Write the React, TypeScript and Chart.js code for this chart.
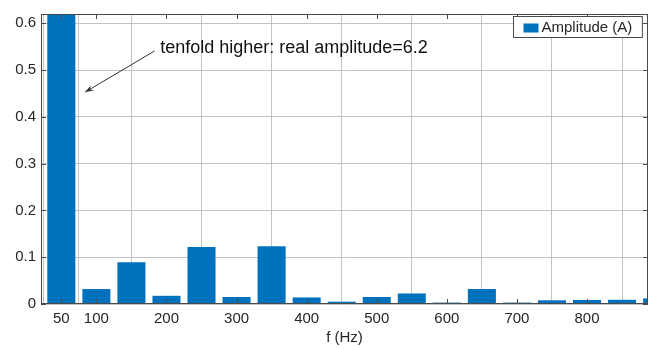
import React, { useEffect, useRef } from "react";
import { Chart, registerables } from "chart.js";

Chart.register(...registerables);

const freqs = [50, 100, 150, 200, 250, 300, 350, 400, 450, 500, 550, 600, 650, 700, 750, 800, 850, 900];
const amps = [6.2, 0.032, 0.089, 0.0175, 0.122, 0.015, 0.1235, 0.014, 0.005, 0.015, 0.0225, 0.003, 0.032, 0.003, 0.008, 0.0085, 0.009, 0.012];
const xTicks = [50, 100, 200, 300, 400, 500, 600, 700, 800];
const yTicks = [0, 0.1, 0.2, 0.3, 0.4, 0.5, 0.6];
const seriesLabel = "Amplitude (A)";
const xTitle = "f (Hz)";
const noteText = "tenfold higher: real amplitude=6.2";
const noteAt = { x: 191, y: 0.537 };
const arrowFrom = { x: 183, y: 0.541 };
const arrowTo = { x: 84, y: 0.453 };

const FONT = "'Liberation Sans', Arial, Helvetica, sans-serif";
const BLUE = "#0072BD";
const TEXT = "#262626";

export default function App() {
  const ref = useRef<HTMLCanvasElement>(null);
  useEffect(() => {
    const canvas = ref.current!;
    const overlay = {
      id: "overlay",
      afterDraw(chart: any) {
        const { ctx, chartArea: a, scales } = chart;
        const xs = scales.x, ys = scales.y;
        ctx.save();
        // box
        ctx.strokeStyle = "#4a4a4a";
        ctx.lineWidth = 1;
        ctx.strokeRect(Math.round(a.left) + 0.5, Math.round(a.top) + 0.5, Math.round(a.right - a.left) - 1, Math.round(a.bottom - a.top) - 1);
        // inward ticks
        ctx.beginPath();
        const tl = 5;
        xTicks.forEach((t) => {
          const px = Math.round(xs.getPixelForValue(t)) + 0.5;
          ctx.moveTo(px, a.bottom);
          ctx.lineTo(px, a.bottom - tl);
          ctx.moveTo(px, a.top);
          ctx.lineTo(px, a.top + tl);
        });
        yTicks.forEach((t) => {
          const py = Math.round(ys.getPixelForValue(t)) + 0.5;
          ctx.moveTo(a.left, py);
          ctx.lineTo(a.left + tl, py);
          ctx.moveTo(a.right, py);
          ctx.lineTo(a.right - tl, py);
        });
        ctx.stroke();
        // annotation text
        ctx.fillStyle = "#111";
        ctx.font = `18px ${FONT}`;
        ctx.textBaseline = "alphabetic";
        ctx.textAlign = "left";
        ctx.fillText(noteText, xs.getPixelForValue(noteAt.x), ys.getPixelForValue(noteAt.y));
        // arrow
        const x1 = xs.getPixelForValue(arrowFrom.x), y1 = ys.getPixelForValue(arrowFrom.y);
        const x2 = xs.getPixelForValue(arrowTo.x), y2 = ys.getPixelForValue(arrowTo.y);
        ctx.strokeStyle = "#333";
        ctx.fillStyle = "#333";
        ctx.lineWidth = 1;
        ctx.beginPath();
        ctx.moveTo(x1, y1);
        ctx.lineTo(x2, y2);
        ctx.stroke();
        const ang = Math.atan2(y2 - y1, x2 - x1);
        const hl = 9, hw = 0.35;
        ctx.beginPath();
        ctx.moveTo(x2, y2);
        ctx.lineTo(x2 - hl * Math.cos(ang - hw), y2 - hl * Math.sin(ang - hw));
        ctx.lineTo(x2 - hl * 0.6 * Math.cos(ang), y2 - hl * 0.6 * Math.sin(ang));
        ctx.lineTo(x2 - hl * Math.cos(ang + hw), y2 - hl * Math.sin(ang + hw));
        ctx.closePath();
        ctx.fill();
        // legend
        ctx.font = `15px ${FONT}`;
        const tw = ctx.measureText(seriesLabel).width;
        const bw = 10 + 15 + 3 + tw + 10;
        const bh = 21;
        const bx = Math.round(a.right - 6 - bw) + 0.5;
        const by = Math.round(a.top + 2) + 0.5;
        ctx.fillStyle = "#fff";
        ctx.fillRect(bx, by, bw, bh);
        ctx.strokeStyle = "#4a4a4a";
        ctx.strokeRect(bx, by, bw, bh);
        ctx.fillStyle = BLUE;
        ctx.fillRect(bx + 10, by + 7, 15, 9);
        ctx.fillStyle = TEXT;
        ctx.textBaseline = "middle";
        ctx.fillText(seriesLabel, bx + 28, by + bh / 2 + 1);
        ctx.restore();
      },
    };
    const chart = new Chart(canvas, {
      type: "bar",
      data: {
        datasets: [
          {
            label: seriesLabel,
            data: freqs.map((f, i) => ({ x: f, y: amps[i] })),
            backgroundColor: BLUE,
            borderWidth: 0,
            barPercentage: 0.8,
            categoryPercentage: 1,
          },
        ],
      },
      options: {
        animation: false,
        responsive: false,
        maintainAspectRatio: false,
        layout: { padding: { top: 9, right: 8, left: 0, bottom: 0 } },
        plugins: { legend: { display: false }, tooltip: { enabled: false } },
        scales: {
          x: {
            type: "linear",
            min: 21,
            max: 887,
            offset: false,
            afterBuildTicks: (s: any) => {
              s.ticks = xTicks.map((v) => ({ value: v }));
            },
            afterFit: (s: any) => {
              s.height = 46;
            },
            ticks: {
              autoSkip: false,
              maxRotation: 0,
              padding: 6,
              color: TEXT,
              font: { family: FONT, size: 15 },
              callback: (v: any) => String(v),
            },
            grid: { color: "#c4c4c4", drawTicks: false, lineWidth: 1 },
            border: { display: false },
            title: {
              display: true,
              text: xTitle,
              color: TEXT,
              font: { family: FONT, size: 15 },
              padding: { top: 0, bottom: 3 },
            },
          },
          y: {
            type: "linear",
            min: 0,
            max: 0.62,
            afterBuildTicks: (s: any) => {
              s.ticks = yTicks.map((v) => ({ value: v }));
            },
            afterFit: (s: any) => {
              s.width = 41;
            },
            ticks: {
              padding: 5,
              color: TEXT,
              font: { family: FONT, size: 15 },
              callback: (v: any) => (v === 0 ? "0" : Number(v).toFixed(1)),
            },
            grid: { color: "#c4c4c4", drawTicks: false, lineWidth: 1 },
            border: { display: false },
          },
        },
      },
      plugins: [overlay],
    } as any);
    return () => chart.destroy();
  }, []);
  return (
    <div style={{ position: "fixed", left: 0, top: 0, width: 656, height: 350, background: "#fff" }}>
      <canvas ref={ref} width={656} height={350} style={{ width: 656, height: 350, display: "block" }} />
    </div>
  );
}
